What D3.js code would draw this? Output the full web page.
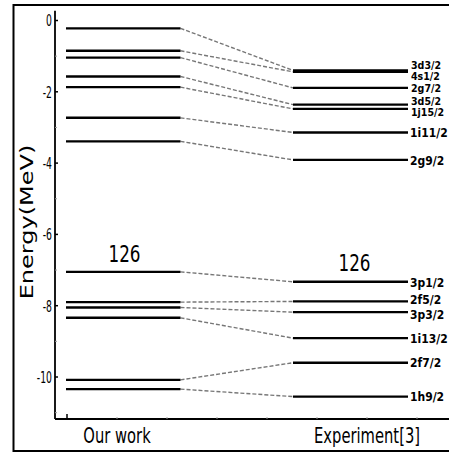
<!DOCTYPE html>
<html><head><meta charset="utf-8">
<script src="https://cdn.jsdelivr.net/npm/d3@7/dist/d3.min.js"></script>
<style>html,body{margin:0;padding:0;background:#fff}svg{display:block}</style>
</head><body>
<script>
// ---- data ----
const columns = ["Our work", "Experiment[3]"];
const states = ["3d3/2","4s1/2","2g7/2","3d5/2","1j15/2","1i11/2","2g9/2","3p1/2","2f5/2","3p3/2","1i13/2","2f7/2","1h9/2"];
const ourWork = [-0.22,-0.85,-1.04,-1.57,-1.87,-2.73,-3.39,-7.05,-7.90,-8.05,-8.34,-10.08,-10.34];
const experiment = [-1.40,-1.44,-1.89,-2.36,-2.48,-3.14,-3.91,-7.33,-7.88,-8.18,-8.91,-9.60,-10.55];
const gapLabel = "126";
const yTicks = [0,-2,-4,-6,-8,-10];
const yMinorTicks = [-1,-3,-5,-7,-9,-11];

// ---- layout ----
const W = 449, H = 453;
const svg = d3.select("body").append("svg").attr("width", W).attr("height", H);
const y = d3.scaleLinear().domain([0, -10]).range([20.5, 377]);
const x = d3.scaleLinear().domain([0, 1]).range([67, 117]);
const colX = [1, 6];          // category centre positions in x units
const span = [[-0.02, 2.27], [4.52, 6.82]];
const axisX = 55, axisBottom = y(-11.18), axisTop = y(0.27);
const smallStates = new Set(["3d3/2","4s1/2","2g7/2","3d5/2","1j15/2"]);
const font = "DejaVu Sans";

function txt(g, px, py, s, fs, sx, anchor, weight) {
  return g.append("text").attr("transform", `translate(${px},${py}) scale(${sx},1)`)
    .attr("font-family", font).attr("font-size", fs).attr("font-weight", weight || "normal")
    .attr("text-anchor", anchor || "start").attr("fill", "#000").text(s);
}

// frame
svg.append("rect").attr("x", 13.5).attr("y", 5).attr("width", 460).attr("height", 446)
  .attr("fill", "none").attr("stroke", "#000").attr("stroke-width", 2);

// y axis
const gy = svg.append("g");
gy.append("line").attr("x1", axisX).attr("x2", axisX).attr("y1", axisTop).attr("y2", axisBottom)
  .attr("stroke", "#000").attr("stroke-width", 1.8);
yTicks.forEach(t => {
  gy.append("line").attr("x1", axisX).attr("x2", axisX + 3).attr("y1", y(t)).attr("y2", y(t)).attr("stroke", "#000").attr("stroke-width", 1.5);
  txt(gy, 52, y(t) + 5.8, String(t), 16, 0.58, "end");
});
yMinorTicks.forEach(t => {
  gy.append("line").attr("x1", axisX).attr("x2", axisX + 2).attr("y1", y(t)).attr("y2", y(t)).attr("stroke", "#999").attr("stroke-width", 1);
});
// y label
svg.append("text").attr("transform", `translate(33,222) rotate(-90) scale(1,0.72)`)
  .attr("font-family", font).attr("font-size", 24).attr("text-anchor", "middle").text("Energy(MeV)");

// x axis
const gx = svg.append("g");
gx.append("line").attr("x1", axisX).attr("x2", W).attr("y1", axisBottom).attr("y2", axisBottom)
  .attr("stroke", "#000").attr("stroke-width", 2);
gx.append("line").attr("x1", x(0)).attr("x2", x(0)).attr("y1", axisBottom).attr("y2", axisBottom - 5).attr("stroke", "#000").attr("stroke-width", 1.5);
d3.range(1, 8).forEach(t => {
  gx.append("line").attr("x1", x(t)).attr("x2", x(t)).attr("y1", axisBottom).attr("y2", axisBottom - 2).attr("stroke", "#999").attr("stroke-width", 1);
});
columns.forEach((c, i) => txt(gx, x(colX[i]), 443, c, 22, 0.67, "middle"));

// levels
const sets = [ourWork, experiment];
const gl = svg.append("g");
// connectors
states.forEach((s, i) => {
  gl.append("line").attr("x1", x(span[0][1])).attr("y1", y(ourWork[i]))
    .attr("x2", x(span[1][0])).attr("y2", y(experiment[i]))
    .attr("stroke", "#777").attr("stroke-width", 1.4).attr("stroke-dasharray", "4,2");
});
sets.forEach((vals, k) => {
  vals.forEach(v => {
    gl.append("line").attr("x1", x(span[k][0])).attr("x2", x(span[k][1]))
      .attr("y1", y(v)).attr("y2", y(v)).attr("stroke", "#000").attr("stroke-width", 2.4);
  });
});

// shell-gap labels
txt(svg, x(1.15), y(-6.78), gapLabel, 23, 0.73, "middle");
txt(svg, x(5.75), y(-7.02), gapLabel, 23, 0.73, "middle");

// state labels with simple de-overlap
const lab = states.map((s, i) => ({ s, c: y(experiment[i]), small: smallStates.has(s) }));
for (let it = 0; it < 120; it++) {
  for (let i = 0; i < lab.length - 1; i++) {
    const a = lab[i], b = lab[i + 1];
    const gap = (a.small && b.small) ? 11.7 : 15.2;
    const d = b.c - a.c;
    if (d < gap) { const m = (gap - d) / 2; a.c -= m; b.c += m; }
  }
}
lab.forEach(l => {
  if (l.small) txt(svg, 411, l.c + 3.7, l.s, 10, 0.95, "start", "bold");
  else txt(svg, 410, l.c + 4.7, l.s, 13, 0.83, "start", "bold");
});
</script>
</body></html>
